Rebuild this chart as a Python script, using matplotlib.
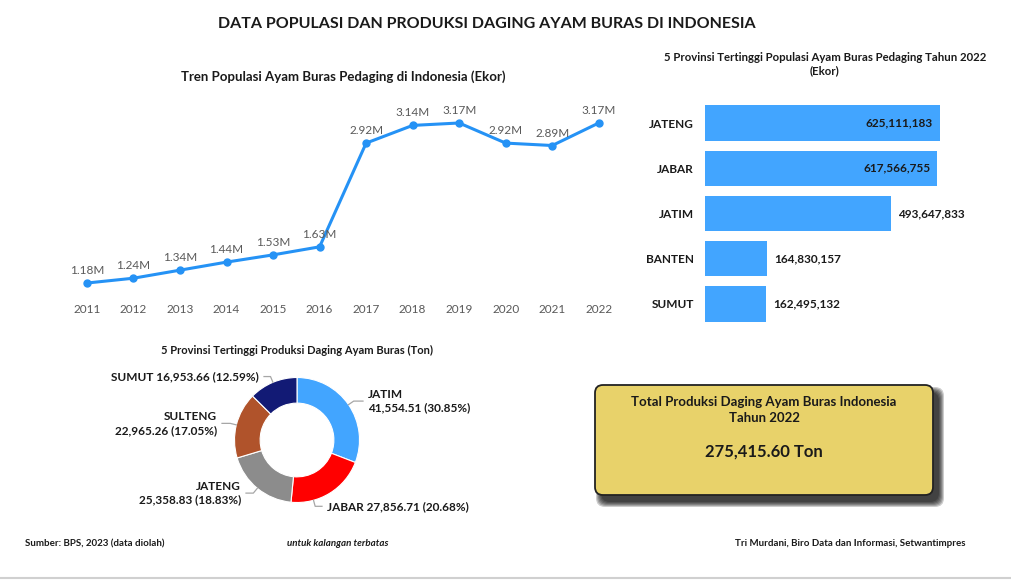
import numpy as np
import matplotlib
matplotlib.use("Agg")
import matplotlib.pyplot as plt
from matplotlib.patches import FancyBboxPatch

plt.rcParams['font.family'] = ['Lato', 'DejaVu Sans']

# Data
years = [2011, 2012, 2013, 2014, 2015, 2016, 2017, 2018, 2019, 2020, 2021, 2022]
populasi_juta = [1.18, 1.24, 1.34, 1.44, 1.53, 1.63, 2.92, 3.14, 3.17, 2.92, 2.89, 3.17]

provinsi_pop = ["JATENG", "JABAR", "JATIM", "BANTEN", "SUMUT"]
populasi_prov = [625111183, 617566755, 493647833, 164830157, 162495132]

provinsi_prod = ["JATIM", "JABAR", "JATENG", "SULTENG", "SUMUT"]
produksi_prov = [41554.51, 27856.71, 25358.83, 22965.26, 16953.66]
total_produksi = 275415.60

W, H = 1012, 580
fig = plt.figure(figsize=(W / 100, H / 100), dpi=100)
fig.patch.set_facecolor("white")


def px_axes(left, top, right, bottom):
    return fig.add_axes([left / W, 1 - bottom / H, (right - left) / W, (bottom - top) / H])


# background axes in pixel coordinates for titles, box and footer
bg = px_axes(0, 0, W, H)
bg.set_xlim(0, W)
bg.set_ylim(H, 0)
bg.axis("off")

dark = "#1a1a1a"
gray = "#595959"

bg.text(487, 24, "DATA POPULASI DAN PRODUKSI DAGING AYAM BURAS DI INDONESIA",
        ha="center", va="center", fontsize=11.5, fontweight="bold", color=dark)

# ---- line chart ----
ax1 = px_axes(63.7, 104.5, 622, 297.5)
ax1.plot(years, populasi_juta, color="#2592f5", lw=2.2, marker="o", ms=5)
for yr, v in zip(years, populasi_juta):
    ax1.annotate(f"{v:.2f}M", (yr, v), xytext=(0, 5), textcoords="offset points",
                 ha="center", va="bottom", fontsize=8.5, color=gray)
ax1.set_xlim(2010.5, 2022.5)
ax1.set_ylim(1.0, 3.4)
ax1.set_xticks(years)
ax1.set_yticks([])
ax1.tick_params(axis="x", length=0, pad=4.5, labelsize=8.5, labelcolor=gray)
for s in ax1.spines.values():
    s.set_visible(False)
bg.text(343, 77, "Tren Populasi Ayam Buras Pedaging di Indonesia (Ekor)",
        ha="center", va="center", fontsize=9.5, fontweight="bold", color=dark)

# ---- bar chart ----
ax2 = px_axes(705, 100.4, 1005.8, 326.6)
ypos = np.arange(len(provinsi_pop))
ax2.barh(ypos, populasi_prov, height=0.78, color="#42a5ff")
ax2.set_xlim(0, 800e6)
ax2.set_ylim(len(provinsi_pop) - 0.5, -0.5)
ax2.set_yticks(ypos)
ax2.set_yticklabels(provinsi_pop, fontsize=8.5, fontweight="bold", color=dark)
ax2.set_xticks([])
ax2.tick_params(axis="y", length=0, pad=8)
for s in ax2.spines.values():
    s.set_visible(False)
for y, v in zip(ypos, populasi_prov):
    if v > 0.9 * max(populasi_prov):
        ax2.annotate(f"{v:,}", (v, y), xytext=(-5, 0), textcoords="offset points",
                     ha="right", va="center", fontsize=8.5, fontweight="bold", color=dark)
    else:
        ax2.annotate(f"{v:,}", (v, y), xytext=(5, 0), textcoords="offset points",
                     ha="left", va="center", fontsize=8.5, fontweight="bold", color=dark)
bg.text(825, 64, "5 Provinsi Tertinggi Populasi Ayam Buras Pedaging Tahun 2022\n(Ekor)",
        ha="center", va="center", fontsize=8.2, fontweight="bold", color=dark, linespacing=1.3)

# ---- donut ----
cx, cy, R = 297, 440, 62.5
ax3 = px_axes(cx - 150, cy - 150, cx + 150, cy + 150)
lim = 150 / R
colors = ["#42a5ff", "#ff0000", "#8c8c8c", "#b0532b", "#121a75"]
ax3.pie(produksi_prov, colors=colors, startangle=90, counterclock=False,
        wedgeprops=dict(width=0.41, edgecolor="white", linewidth=0.8))
ax3.set_xlim(-lim, lim)
ax3.set_ylim(-lim, lim)
ax3.set_aspect("equal")
ax3.axis("off")

total = sum(produksi_prov)
shares = [v / total for v in produksi_prov]
# where the leader line leaves each wedge (fraction of the wedge span)
anchor_frac = [0.5, 0.72, 0.5, 0.5, 0.5]
label_x = [368, 327, 241, 217, 259]
label_side = ["left", "left", "right", "right", "right"]
label_two_lines = [True, False, True, True, False]
cum = 0.0
for i, name in enumerate(provinsi_prod):
    ang = np.deg2rad(90 - (cum + anchor_frac[i] * shares[i]) * 360)
    cum += shares[i]
    x0, y0 = np.cos(ang), np.sin(ang)
    x1, y1 = 1.1 * x0, 1.1 * y0
    tx = (label_x[i] - cx) / R
    gap = 5 / R
    x2 = tx - gap if label_side[i] == "left" else tx + gap
    ax3.plot([x0, x1, x2], [y0, y1, y1], color="#a6a6a6", lw=0.9, clip_on=False)
    sep = "\n" if label_two_lines[i] else " "
    txt = f"{name}{sep}{produksi_prov[i]:,.2f} ({shares[i] * 100:.2f}%)"
    ax3.text(tx, y1, txt, ha=label_side[i], va="center", multialignment=label_side[i],
             fontsize=8.5, fontweight="bold", color=dark, linespacing=1.3, clip_on=False)
bg.text(297, 350, "5 Provinsi Tertinggi Produksi Daging Ayam Buras (Ton)",
        ha="center", va="center", fontsize=8, fontweight="bold", color=dark)

# ---- total box ----
for k in range(6):
    shadow = FancyBboxPatch((601 - k, 392 - k), 338 + 2 * k, 110 + 2 * k,
                            boxstyle="round,pad=0,rounding_size=9",
                            facecolor="black", edgecolor="none", alpha=0.2)
    bg.add_patch(shadow)
box = FancyBboxPatch((595, 385), 338, 110, boxstyle="round,pad=0,rounding_size=8",
                     facecolor="#e8d26a", edgecolor="#222222", linewidth=1.3)
bg.add_patch(box)
bg.text(764, 410, "Total Produksi Daging Ayam Buras Indonesia\nTahun 2022",
        ha="center", va="center", fontsize=9.5, fontweight="bold", color=dark, linespacing=1.4)
bg.text(764, 452, f"{total_produksi:,.2f} Ton",
        ha="center", va="center", fontsize=12, fontweight="bold", color=dark)

# ---- footer ----
bg.text(25, 544, "Sumber: BPS, 2023 (data diolah)", ha="left", va="center",
        fontsize=7, fontweight="bold", color=dark)
bg.text(287, 544, "untuk kalangan terbatas", ha="left", va="center",
        fontsize=7, fontweight="bold", style="italic", color=dark)
bg.text(966, 543, "Tri Murdani, Biro Data dan Informasi, Setwantimpres", ha="right", va="center",
        fontsize=7, fontweight="bold", color=dark)
bg.plot([0, W], [578, 578], color="#d0d0d0", lw=1.5)

fig.savefig("out.png", dpi=100)
